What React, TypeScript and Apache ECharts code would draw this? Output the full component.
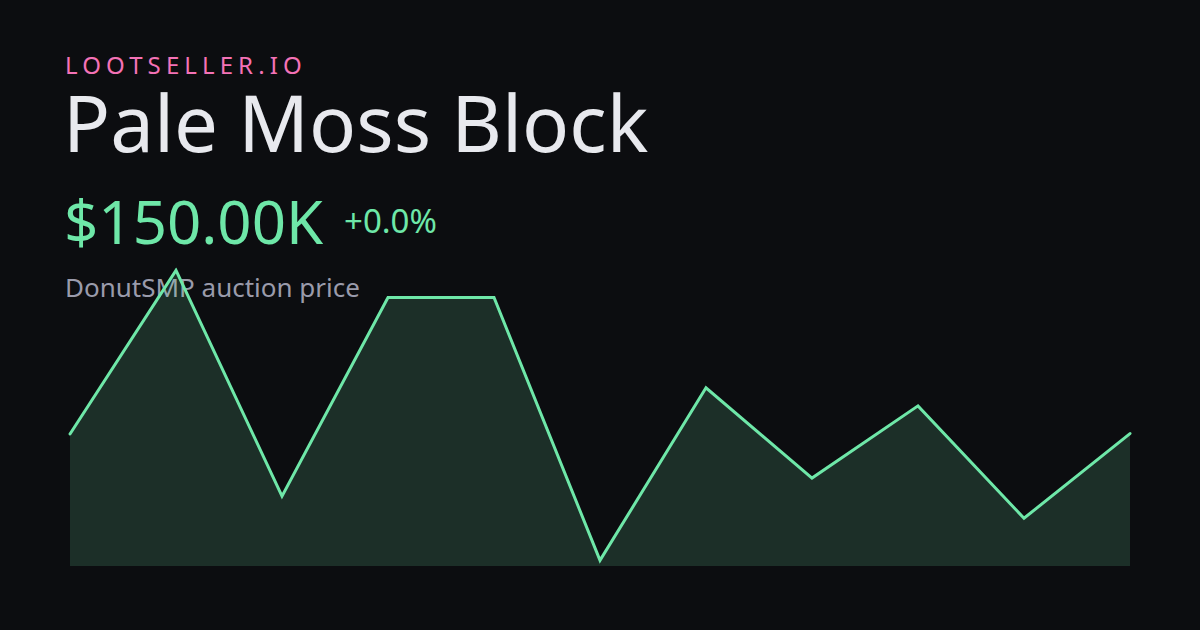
import React, { useEffect, useRef } from "react";
import * as echarts from "echarts";

const categories = ["1", "2", "3", "4", "5", "6", "7", "8", "9", "10", "11"];
const prices = [149.8, 231.3, 118.8, 217.8, 217.8, 86.8, 172.8, 127.8, 163.8, 107.8, 150.0];
const brand = "LOOTSELLER.IO";
const itemName = "Pale Moss Block";
const priceLabel = "$150.00K";
const changeLabel = "+0.0%";
const subtitle = "DonutSMP auction price";

export default function App() {
  const ref = useRef<HTMLDivElement>(null);
  useEffect(() => {
    document.body.style.margin = "0";
    document.body.style.background = "#0c0d10";
    const chart = echarts.init(ref.current!, null, { renderer: "svg" });
    const font = "'Noto Sans', 'Open Sans', sans-serif";
    chart.setOption({
      animation: false,
      backgroundColor: "#0c0d10",
      grid: { left: 70, right: 70, top: 269, bottom: 64 },
      xAxis: {
        type: "category",
        data: categories,
        boundaryGap: false,
        show: false,
      },
      yAxis: { type: "value", min: 84, max: 232, show: false },
      series: [
        {
          type: "line",
          data: prices,
          symbol: "none",
          lineStyle: { color: "#6ee7a8", width: 3, cap: "round", join: "miter" },
          areaStyle: { color: "#6ee7a8", opacity: 0.16 },
        },
      ],
      graphic: [
        {
          type: "text",
          left: 65,
          top: 52,
          style: { text: brand, fill: "#f472b6", font: `400 24px ${font}` },
        },
        {
          type: "text",
          left: 63,
          top: 83,
          style: { text: itemName, fill: "#e8e9ee", font: `400 78px ${font}` },
        },
        {
          type: "text",
          left: 64,
          top: 191,
          style: { text: priceLabel, fill: "#6ee7a8", font: `400 60px ${font}` },
        },
        {
          type: "text",
          left: 344,
          top: 204,
          style: { text: changeLabel, fill: "#6ee7a8", font: `400 33px ${font}` },
        },
        {
          type: "text",
          left: 65,
          top: 274,
          style: { text: subtitle, fill: "#9a9bab", font: `400 26px ${font}` },
        },
      ],
    });
    const spaceBrand = () => {
      const texts = ref.current?.querySelectorAll("text") || [];
      texts.forEach((t) => {
        if (t.textContent === brand) t.setAttribute("letter-spacing", "5.1");
      });
    };
    chart.getZr().refreshImmediately();
    spaceBrand();
    chart.on("finished", spaceBrand);
    const raf = requestAnimationFrame(spaceBrand);
    return () => {
      cancelAnimationFrame(raf);
      chart.dispose();
    };
  }, []);
  return <div ref={ref} style={{ width: 1200, height: 630 }} />;
}
